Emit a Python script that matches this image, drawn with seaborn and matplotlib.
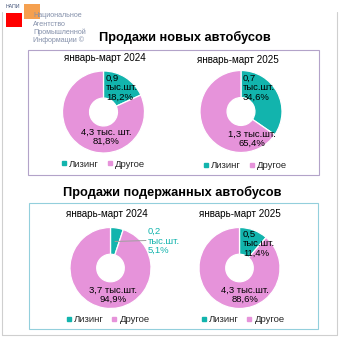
import matplotlib
matplotlib.use("Agg")
import matplotlib.pyplot as plt
from matplotlib.patches import Rectangle
from matplotlib.lines import Line2D
import seaborn as sns

# ---------------- data ----------------
periods = ["январь-март 2024", "январь-март 2025"]
categories = ["Лизинг", "Другое"]
section_titles = ["Продажи новых автобусов", "Продажи подержанных автобусов"]

new_units = [[0.9, 4.3], [0.7, 1.3]]
new_pct = [[18.2, 81.8], [34.6, 65.4]]
new_unit_words = [["тыс.шт.", "тыс. шт."], ["тыс.шт.", "тыс.шт."]]

used_units = [[0.2, 3.7], [0.5, 4.3]]
used_pct = [[5.1, 94.9], [11.4, 88.6]]
used_unit_words = [["тыс.шт.", "тыс.шт."], ["тыс.шт.", "тыс.шт."]]

logo_lines = ["Национальное", "Агентство", "Промышленной", "Информации ©"]

# ---------------- style ----------------
sns.set_theme(style="white")
plt.rcParams['font.family'] = ['Liberation Sans', 'DejaVu Sans']
palette = ["#12b4ad", "#e693da"]

W = H = 340
fig = plt.figure(figsize=(3.4, 3.4), dpi=100)
fig.patch.set_facecolor("white")


def P(x, y):
    return x / W, 1 - y / H


def frac(v):
    return f"{v:.1f}".replace(".", ",")


# outer frame (left, right, bottom)
for (x0, y0, x1, y1) in [(2, 12, 2, 335), (337, 12, 337, 335), (2, 335, 337, 335)]:
    fig.add_artist(Line2D([x0 / W, x1 / W], [1 - y0 / H, 1 - y1 / H],
                          transform=fig.transFigure, color="#cfcfcf", lw=0.8))

# section boxes
fig.add_artist(Rectangle(P(28.5, 175), 290 / W, 125 / H, transform=fig.transFigure,
                         fill=False, edgecolor="#b3a3c9", lw=0.8))
fig.add_artist(Rectangle(P(29, 329), 289 / W, 126 / H, transform=fig.transFigure,
                         fill=False, edgecolor="#93cfdc", lw=0.8))

# logo
fig.add_artist(Rectangle(P(6, 27.3), 16 / W, 14.6 / H, transform=fig.transFigure,
                         facecolor="#ff0000", edgecolor="none"))
fig.add_artist(Rectangle(P(24, 19), 16 / W, 15 / H, transform=fig.transFigure,
                         facecolor="#f5a04f", edgecolor="none"))
fig.text(*P(6, 6.5), "НАПИ", fontsize=3.8, color="#44557a", ha="left", va="center")
for i, line in enumerate(logo_lines):
    fig.text(*P(33, 15.7 + 8.3 * i), line, fontsize=5.1, color="#8490aa",
             ha="left", va="center")

# section titles
fig.text(*P(184.5, 37.5), section_titles[0], fontsize=9.2, fontweight="bold",
         ha="center", va="center", color="black")
fig.text(*P(172.5, 192), section_titles[1], fontsize=9.2, fontweight="bold",
         ha="center", va="center", color="black")

panels = [
    dict(units=new_units[0], pct=new_pct[0], words=new_unit_words[0], period=periods[0],
         cx=103.5, cy=112, r=41, ty=58, tx=105, lg=(103.5, 164),
         l0=(106, 87.5), l1=(106, 137), c0="black", leader=None),
    dict(units=new_units[1], pct=new_pct[1], words=new_unit_words[1], period=periods[1],
         cx=241, cy=111.5, r=41, ty=60, tx=238, lg=(245.5, 166),
         l0=(243, 88), l1=(252, 139), c0="black", leader=None),
    dict(units=used_units[0], pct=used_pct[0], words=used_unit_words[0], period=periods[0],
         cx=110.5, cy=268, r=40.5, ty=214, tx=107, lg=(108, 320),
         l0=(148, 241), l1=(113, 294.5), c0="#12b4ad", leader=((115, 241.5), (146, 240.5))),
    dict(units=used_units[1], pct=used_pct[1], words=used_unit_words[1], period=periods[1],
         cx=239.5, cy=268, r=40.5, ty=214, tx=240, lg=(243, 320),
         l0=(243, 244), l1=(245, 294.5), c0="black", leader=None),
]

for p in panels:
    cx, cy, r = p["cx"], p["cy"], p["r"]
    ax = fig.add_axes([(cx - r) / W, 1 - (cy + r) / H, 2 * r / W, 2 * r / H])
    ax.pie(p["pct"], colors=palette, startangle=90, counterclock=False, radius=1,
           wedgeprops=dict(width=0.66, edgecolor="white", linewidth=0.9))
    ax.set_xlim(-1, 1)
    ax.set_ylim(-1, 1)
    ax.set_axis_off()

    fig.text(*P(p["tx"], p["ty"]), p["period"], fontsize=7.1, ha="center",
             va="center", color="black")

    lab0 = f"{frac(p['units'][0])}\n{p['words'][0]}\n{frac(p['pct'][0])}%"
    lab1 = f"{frac(p['units'][1])} {p['words'][1]}\n{frac(p['pct'][1])}%"
    fig.text(*P(*p["l0"]), lab0, fontsize=6.8, ha="left", va="center",
             multialignment="left", color=p["c0"], linespacing=1.05)
    fig.text(*P(*p["l1"]), lab1, fontsize=6.8, ha="center", va="center",
             multialignment="center", color="black", linespacing=1.05)
    if p["leader"] is not None:
        (x0, y0), (x1, y1) = p["leader"]
        fig.add_artist(Line2D([x0 / W, x1 / W], [1 - y0 / H, 1 - y1 / H],
                              transform=fig.transFigure, color="#a0a0a0", lw=0.7))

    handles = [Line2D([], [], marker="s", linestyle="none", markersize=3.3,
                      markerfacecolor=c, markeredgecolor=c) for c in palette]
    ax.legend(handles, categories, ncol=2, loc="center",
              bbox_to_anchor=P(*p["lg"]), bbox_transform=fig.transFigure,
              frameon=False, fontsize=6.8, handlelength=0.5, handletextpad=0.3,
              columnspacing=0.9, borderpad=0, borderaxespad=0)

fig.savefig("out.png", dpi=100)
